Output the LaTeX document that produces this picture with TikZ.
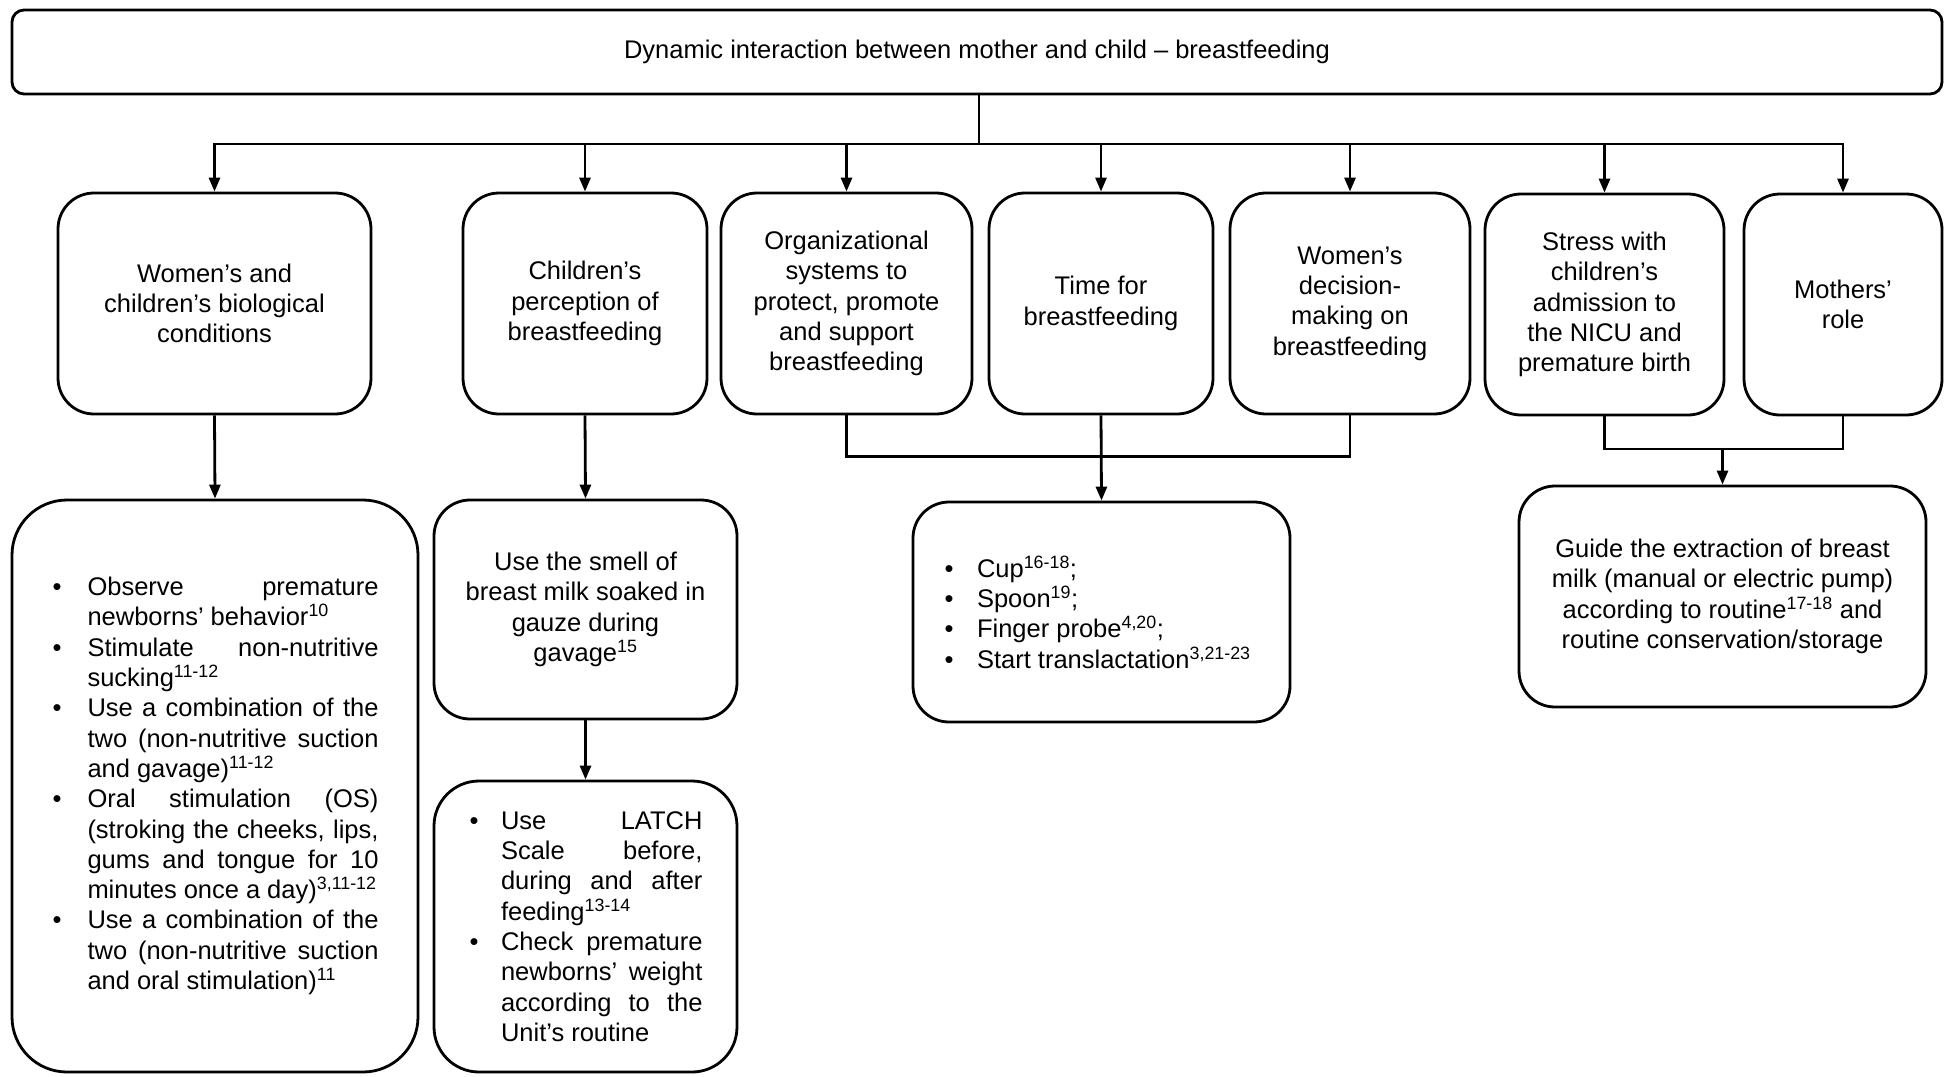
\documentclass[tikz,border=0pt]{standalone}
\usepackage{fontspec}
\setmainfont{Liberation Sans}
\usetikzlibrary{arrows.meta}
\hyphenpenalty=10000
\exhyphenpenalty=10000
\newenvironment{blist}[2]{\begin{list}{\textbullet}{\setlength{\leftmargin}{#1}\setlength{\labelwidth}{10pt}\setlength{\labelsep}{#2}\setlength{\itemsep}{0pt}\setlength{\parsep}{0pt}\setlength{\topsep}{0pt}\setlength{\partopsep}{0pt}\setlength{\itemindent}{0pt}\setlength{\listparindent}{0pt}}}{\end{list}}
\newcommand{\jsp}{\spaceskip=7pt plus 200pt minus 1pt\relax}
\begin{document}
\begin{tikzpicture}[x=1pt,y=-1pt,
  box/.style={draw, line width=2.8pt, rounded corners=36pt, inner sep=0pt, align=center, font=\fontsize{25.5}{30.3}\selectfont},
  conn/.style={line width=2.8pt, line cap=rect},
  arr/.style={line width=2.8pt, -{Triangle[length=14pt,width=11pt]}},
]
\useasboundingbox (0,0) rectangle (1945,1076);

\node[box, minimum width=1930pt, minimum height=84pt, rounded corners=12pt] (top) at (977,52) {Dynamic interaction between mother and child – breastfeeding};

\node[box, minimum width=313pt, minimum height=221pt] (b1) at (214.5,303.5) {Women’s and\\children’s biological\\conditions};
\node[box, minimum width=244pt, minimum height=221pt] (b2) at (585,303.5) {Children’s\\perception of\\breastfeeding};
\node[box, minimum width=251pt, minimum height=221pt] (b3) at (846.5,303.5) {Organizational\\systems to\\protect, promote\\and support\\breastfeeding};
\node[box, minimum width=224pt, minimum height=221pt] (b4) at (1101,303.5) {Time for\\breastfeeding};
\node[box, minimum width=240pt, minimum height=221pt] (b5) at (1350,303.5) {Women’s\\decision-\\making on\\breastfeeding};
\node[box, minimum width=239pt, minimum height=221pt] (b6) at (1604.5,304.5) {Stress with\\children’s\\admission to\\the NICU and\\premature birth};
\node[box, minimum width=198pt, minimum height=221pt] (b7) at (1843,304.5) {Mothers’\\role};

\node[box, minimum width=406pt, minimum height=572pt, rounded corners=55pt] (A) at (215,786) {%
\begin{minipage}{327pt}\jsp
\begin{blist}{36pt}{26pt}
\item Observe premature\linebreak newborns’ behavior\textsuperscript{10}
\item Stimulate non-nutritive\linebreak sucking\textsuperscript{11-12}
\item Use a combination of the\linebreak two (non-nutritive suction\linebreak and gavage)\textsuperscript{11-12}
\item Oral stimulation (OS)\linebreak (stroking the cheeks, lips,\linebreak gums and tongue for 10\linebreak minutes once a day)\textsuperscript{3,11-12}
\item Use a combination of the\linebreak two (non-nutritive suction\linebreak and oral stimulation)\textsuperscript{11}
\end{blist}
\end{minipage}};

\node[box, minimum width=303pt, minimum height=219pt] (B) at (585.5,609.5) {Use the smell of\\breast milk soaked in\\gauze during\\gavage\textsuperscript{15}};

\node[box, minimum width=303pt, minimum height=291pt, rounded corners=45pt] (C) at (585.5,926.5) {%
\begin{minipage}{234pt}\jsp
\begin{blist}{32.5pt}{22.5pt}
\item Use LATCH\linebreak Scale before,\linebreak during and after\linebreak feeding\textsuperscript{13-14}
\item Check premature\linebreak newborns’ weight\linebreak according to the\linebreak Unit’s routine
\end{blist}
\end{minipage}};

\node[box, minimum width=377pt, minimum height=220pt] (D) at (1101.5,612) {%
\begin{minipage}{316pt}\raggedright
\begin{blist}{33.5pt}{23.5pt}
\item Cup\textsuperscript{16-18};
\item Spoon\textsuperscript{19};
\item Finger probe\textsuperscript{4,20};
\item Start translactation\textsuperscript{3,21-23}
\end{blist}
\end{minipage}};

\node[box, minimum width=407pt, minimum height=221pt] (E) at (1722.5,596.5) {Guide the extraction of breast\\milk (manual or electric pump)\\according to routine\textsuperscript{17-18} and\\routine conservation/storage};

% connectors from top
\coordinate (bus) at (979,144);
\draw[conn] (bus |- top.south) -- (bus);
\draw[conn] (b1.north |- bus) -- (b7.north |- bus);
\foreach \n in {b1,b2,b3,b4,b5,b6,b7} \draw[arr] (\n.north |- bus) -- (\n.north);

% left column
\draw[arr] (b1.south) -- (A.north);
\draw[arr] (b2.south) -- (B.north);
\draw[arr] (B.south) -- (C.north);

% middle junction
\coordinate (j1) at (1101,456.5);
\draw[conn] (b3.south) |- (j1) -| (b5.south);
\draw[arr] (b4.south) -- (D.north);

% right junction
\coordinate (j2) at (1722.5,449);
\draw[conn] (b6.south) |- (j2) -| (b7.south);
\draw[arr] (j2) -- (E.north);
\end{tikzpicture}
\end{document}
